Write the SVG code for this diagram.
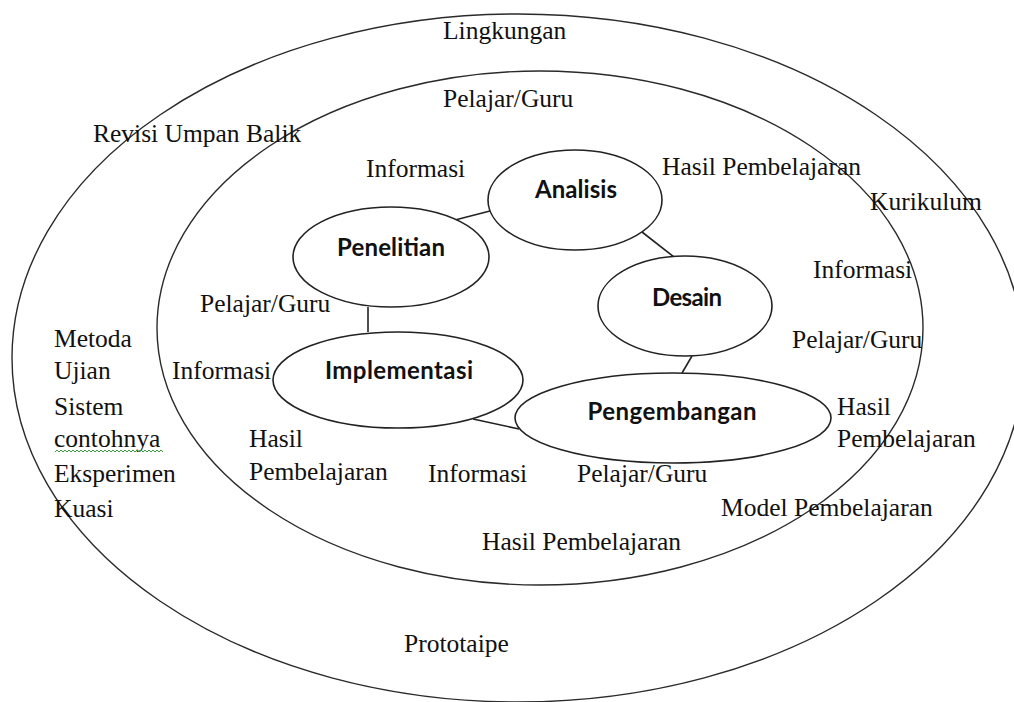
<svg xmlns="http://www.w3.org/2000/svg" width="1014" height="702" viewBox="0 0 1014 702">
<style>
.ring{fill:none;stroke:#2a2a2a;stroke-width:1.4}
.node ellipse{fill:#fff;stroke:#222;stroke-width:1.6}
.node text{font-family:Lato,"Liberation Sans",sans-serif;font-weight:bold;font-size:24px;fill:#111;text-anchor:middle}
.lbl{font-family:"Liberation Serif","Times New Roman",serif;font-size:25.5px;fill:#111}
.conn line{stroke:#222;stroke-width:1.6}
</style>
<rect width="1014" height="702" fill="#fff"/>
<g id="rings">
<ellipse class="ring" cx="518" cy="358" rx="506" ry="344"/>
<ellipse class="ring" cx="540" cy="328" rx="383" ry="257"/>
</g>
<g id="connectors" class="conn">
<line x1="455" y1="220" x2="490" y2="211"/>
<line x1="642" y1="232" x2="674" y2="257"/>
<line x1="692" y1="356" x2="682" y2="373"/>
<line x1="368" y1="307" x2="368" y2="332"/>
<line x1="473" y1="419" x2="519" y2="429"/>
</g>
<g id="analisis" class="node"><ellipse cx="575" cy="200" rx="87" ry="50"/><text x="576" y="198" textLength="82">Analisis</text></g>
<g id="penelitian" class="node"><ellipse cx="391" cy="257" rx="98" ry="50"/><text x="391" y="256" textLength="108">Penelitian</text></g>
<g id="desain" class="node"><ellipse cx="685" cy="306" rx="87" ry="50"/><text x="687" y="306" textLength="70">Desain</text></g>
<g id="implementasi" class="node"><ellipse cx="398" cy="380" rx="125" ry="48"/><text x="399" y="379" textLength="148">Implementasi</text></g>
<g id="pengembangan" class="node"><ellipse cx="673" cy="418" rx="158" ry="45"/><text x="672" y="420" textLength="169">Pengembangan</text></g>
<g id="labels" class="lbl">
<text x="443" y="39">Lingkungan</text>
<text x="443" y="107">Pelajar/Guru</text>
<text x="93" y="142">Revisi Umpan Balik</text>
<text x="366" y="177">Informasi</text>
<text x="662" y="175">Hasil Pembelajaran</text>
<text x="870" y="210">Kurikulum</text>
<text x="813" y="278">Informasi</text>
<text x="792" y="348">Pelajar/Guru</text>
<text x="837" y="415">Hasil</text>
<text x="837" y="447">Pembelajaran</text>
<text x="721" y="516">Model Pembelajaran</text>
<text x="482" y="550">Hasil Pembelajaran</text>
<text x="404" y="652">Prototaipe</text>
<text x="200" y="312">Pelajar/Guru</text>
<text x="172" y="379">Informasi</text>
<text x="249" y="447">Hasil</text>
<text x="249" y="480">Pembelajaran</text>
<text x="428" y="482">Informasi</text>
<text x="577" y="482">Pelajar/Guru</text>
<text x="54" y="347">Metoda</text>
<text x="54" y="379">Ujian</text>
<text x="54" y="415">Sistem</text>
<text x="54" y="447">contohnya</text>
<text x="54" y="482">Eksperimen</text>
<text x="54" y="517">Kuasi</text>
</g>
<polyline fill="none" stroke="#3a9a3a" stroke-width="1" points="55,452 57,450 59,452 61,450 63,452 65,450 67,452 69,450 71,452 73,450 75,452 77,450 79,452 81,450 83,452 85,450 87,452 89,450 91,452 93,450 95,452 97,450 99,452 101,450 103,452 105,450 107,452 109,450 111,452 113,450 115,452 117,450 119,452 121,450 123,452 125,450 127,452 129,450 131,452 133,450 135,452 137,450 139,452 141,450 143,452 145,450 147,452 149,450 151,452 153,450 155,452 157,450 159,452 161,450 163,452"/>
</svg>
